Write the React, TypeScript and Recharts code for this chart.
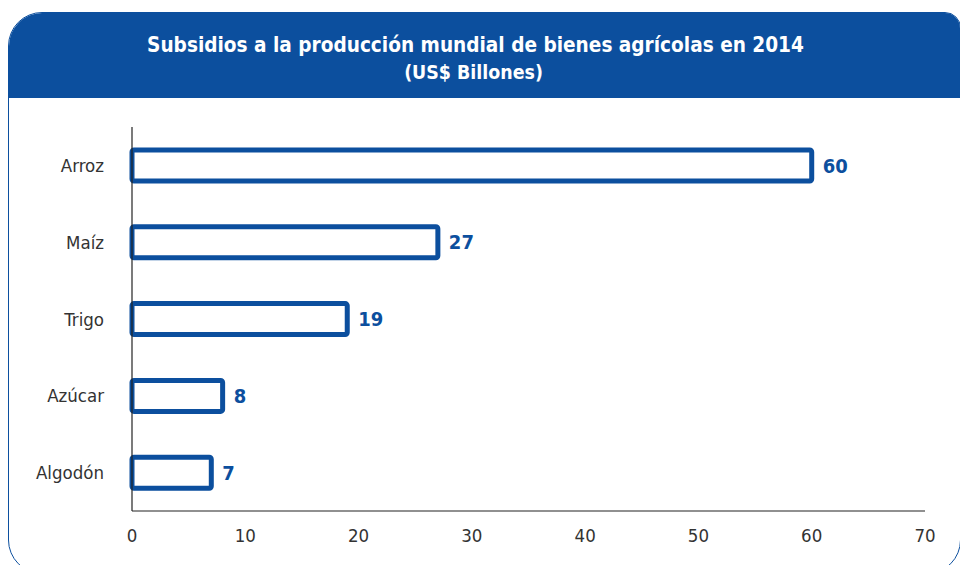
import React from "react";
import { BarChart, Bar, XAxis, YAxis, LabelList } from "recharts";

const cultivos = ["Arroz", "Maíz", "Trigo", "Azúcar", "Algodón"];
const subsidios = [60, 27, 19, 8, 7];
const xTicks = [0, 10, 20, 30, 40, 50, 60, 70];

const BLUE = "#0c4f9e";
const FONT = "'DejaVu Sans Condensed', 'DejaVu Sans', sans-serif";

const data = cultivos.map((c, i) => ({ cultivo: c, valor: subsidios[i] }));

export default function App() {
  return (
    <div style={{ position: "absolute", left: 0, top: 0, width: 960, height: 565, overflow: "hidden", background: "#fff", fontFamily: FONT }}>
      {/* rounded frame with header band */}
      <div
        style={{
          position: "absolute",
          left: 8,
          top: 12,
          width: 953,
          height: 562,
          border: `1.5px solid ${BLUE}`,
          borderRadius: "34px 16px 34px 34px",
          overflow: "hidden",
          boxSizing: "border-box",
        }}
      >
        <div style={{ background: BLUE, height: 85, color: "#fff", textAlign: "center", width: "100%", position: "relative" }}>
          <div
            style={{
              position: "absolute",
              left: 0,
              right: 18,
              top: 18,
              fontWeight: "bold",
              fontSize: 20.6,
              fontStretch: "condensed",
              lineHeight: "28px",
            }}
          >
            Subsidios a la producción mundial de bienes agrícolas en 2014
          </div>
          <div
            style={{
              position: "absolute",
              left: 0,
              right: 22,
              top: 47,
              fontWeight: "bold",
              fontSize: 19.4,
              fontStretch: "condensed",
              lineHeight: "26px",
            }}
          >
            (US$ Billones)
          </div>
        </div>
      </div>

      <div style={{ position: "absolute", left: 0, top: 0 }}>
        <BarChart
          width={960}
          height={565}
          data={data}
          layout="vertical"
          margin={{ top: 127, right: 35, bottom: 0, left: 32 }}
          barCategoryGap={0}
        >
          <XAxis
            type="number"
            domain={[0, 70]}
            ticks={xTicks}
            interval={0}
            tickLine={false}
            axisLine={{ stroke: "#222", strokeWidth: 1.2 }}
            tickMargin={12}
            tick={{ fontSize: 18.5, fill: "#333", fontFamily: FONT }}
            height={54}
          />
          <YAxis
            type="category"
            dataKey="cultivo"
            width={100}
            tickLine={false}
            axisLine={{ stroke: "#222", strokeWidth: 1.2 }}
            tickMargin={22}
            tick={{ fontSize: 18.5, fill: "#333", fontFamily: FONT }}
          />
          <Bar
            dataKey="valor"
            barSize={31}
            fill="#fff"
            stroke={BLUE}
            strokeWidth={5}
            radius={2}
            isAnimationActive={false}
          >
            <LabelList
              dataKey="valor"
              position="right"
              offset={11}
              style={{ fontSize: 20, fontWeight: "bold", fill: BLUE, fontFamily: FONT }}
            />
          </Bar>
        </BarChart>
      </div>
    </div>
  );
}
